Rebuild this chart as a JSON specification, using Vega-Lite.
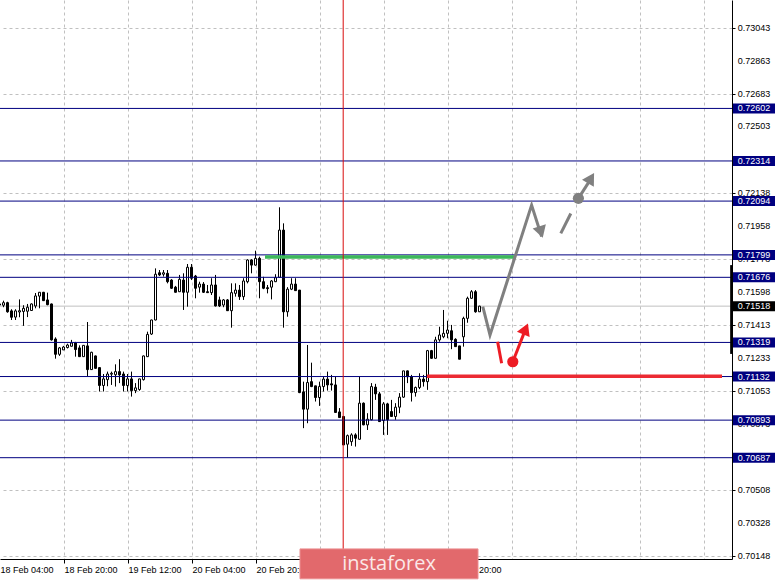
{
"$schema": "https://vega.github.io/schema/vega-lite/v6.json",
"width": 732, "height": 559,
"autosize": {"type": "none"},
"padding": {"left": 0, "top": 0, "right": 46, "bottom": 21},
"background": "white",
"config": {"view": {"stroke": null}, "font": "Liberation Sans", "scale": {"continuousPadding": 0}},
"datasets": {
"candles": [
{"k":0,"o":0.71524,"h":0.71537,"l":0.71515,"c":0.71530},
{"k":1,"o":0.71523,"h":0.71548,"l":0.71512,"c":0.71537},
{"k":2,"o":0.71537,"h":0.71542,"l":0.71482,"c":0.71487},
{"k":3,"o":0.71492,"h":0.71501,"l":0.71442,"c":0.71457},
{"k":4,"o":0.71458,"h":0.71501,"l":0.71442,"c":0.71492},
{"k":5,"o":0.71486,"h":0.71555,"l":0.71457,"c":0.71493},
{"k":6,"o":0.71489,"h":0.71523,"l":0.71410,"c":0.71506},
{"k":7,"o":0.71490,"h":0.71530,"l":0.71458,"c":0.71512},
{"k":8,"o":0.71494,"h":0.71533,"l":0.71492,"c":0.71530},
{"k":9,"o":0.71519,"h":0.71590,"l":0.71506,"c":0.71574},
{"k":10,"o":0.71573,"h":0.71594,"l":0.71506,"c":0.71594},
{"k":11,"o":0.71594,"h":0.71596,"l":0.71546,"c":0.71548},
{"k":12,"o":0.71552,"h":0.71592,"l":0.71523,"c":0.71526},
{"k":13,"o":0.71530,"h":0.71532,"l":0.71329,"c":0.71333},
{"k":14,"o":0.71338,"h":0.71347,"l":0.71230,"c":0.71254},
{"k":15,"o":0.71254,"h":0.71294,"l":0.71245,"c":0.71289},
{"k":16,"o":0.71278,"h":0.71300,"l":0.71278,"c":0.71294},
{"k":17,"o":0.71291,"h":0.71312,"l":0.71286,"c":0.71305},
{"k":18,"o":0.71298,"h":0.71333,"l":0.71297,"c":0.71316},
{"k":19,"o":0.71316,"h":0.71322,"l":0.71241,"c":0.71280},
{"k":20,"o":0.71289,"h":0.71303,"l":0.71239,"c":0.71241},
{"k":21,"o":0.71241,"h":0.71303,"l":0.71241,"c":0.71303},
{"k":22,"o":0.71300,"h":0.71431,"l":0.71135,"c":0.71170},
{"k":23,"o":0.71170,"h":0.71268,"l":0.71168,"c":0.71265},
{"k":24,"o":0.71245,"h":0.71247,"l":0.71175,"c":0.71177},
{"k":25,"o":0.71181,"h":0.71183,"l":0.71050,"c":0.71083},
{"k":26,"o":0.71083,"h":0.71146,"l":0.71050,"c":0.71119},
{"k":27,"o":0.71115,"h":0.71159,"l":0.71079,"c":0.71146},
{"k":28,"o":0.71145,"h":0.71159,"l":0.71086,"c":0.71150},
{"k":29,"o":0.71142,"h":0.71199,"l":0.71077,"c":0.71159},
{"k":30,"o":0.71159,"h":0.71227,"l":0.71096,"c":0.71141},
{"k":31,"o":0.71146,"h":0.71159,"l":0.71050,"c":0.71083},
{"k":32,"o":0.71083,"h":0.71146,"l":0.71050,"c":0.71119},
{"k":33,"o":0.71119,"h":0.71159,"l":0.71022,"c":0.71055},
{"k":34,"o":0.71055,"h":0.71096,"l":0.71041,"c":0.71070},
{"k":35,"o":0.71061,"h":0.71120,"l":0.71054,"c":0.71119},
{"k":36,"o":0.71115,"h":0.71247,"l":0.71110,"c":0.71245},
{"k":37,"o":0.71241,"h":0.71378,"l":0.71239,"c":0.71363},
{"k":38,"o":0.71365,"h":0.71444,"l":0.71360,"c":0.71442},
{"k":39,"o":0.71442,"h":0.71725,"l":0.71440,"c":0.71693},
{"k":40,"o":0.71701,"h":0.71716,"l":0.71683,"c":0.71689},
{"k":41,"o":0.71693,"h":0.71716,"l":0.71680,"c":0.71701},
{"k":42,"o":0.71698,"h":0.71716,"l":0.71643,"c":0.71652},
{"k":43,"o":0.71661,"h":0.71666,"l":0.71612,"c":0.71616},
{"k":44,"o":0.71622,"h":0.71629,"l":0.71593,"c":0.71594},
{"k":45,"o":0.71597,"h":0.71689,"l":0.71596,"c":0.71665},
{"k":46,"o":0.71661,"h":0.71698,"l":0.71497,"c":0.71594},
{"k":47,"o":0.71594,"h":0.71749,"l":0.71515,"c":0.71731},
{"k":48,"o":0.71731,"h":0.71749,"l":0.71661,"c":0.71671},
{"k":49,"o":0.71683,"h":0.71689,"l":0.71561,"c":0.71616},
{"k":50,"o":0.71622,"h":0.71652,"l":0.71592,"c":0.71639},
{"k":51,"o":0.71639,"h":0.71650,"l":0.71590,"c":0.71594},
{"k":52,"o":0.71597,"h":0.71634,"l":0.71590,"c":0.71592},
{"k":53,"o":0.71592,"h":0.71671,"l":0.71579,"c":0.71634},
{"k":54,"o":0.71634,"h":0.71689,"l":0.71516,"c":0.71519},
{"k":55,"o":0.71552,"h":0.71570,"l":0.71513,"c":0.71519},
{"k":56,"o":0.71524,"h":0.71557,"l":0.71512,"c":0.71552},
{"k":57,"o":0.71552,"h":0.71557,"l":0.71492,"c":0.71493},
{"k":58,"o":0.71493,"h":0.71643,"l":0.71400,"c":0.71592},
{"k":59,"o":0.71588,"h":0.71643,"l":0.71570,"c":0.71606},
{"k":60,"o":0.71606,"h":0.71634,"l":0.71552,"c":0.71570},
{"k":61,"o":0.71570,"h":0.71671,"l":0.71552,"c":0.71656},
{"k":62,"o":0.71652,"h":0.71775,"l":0.71643,"c":0.71771},
{"k":63,"o":0.71771,"h":0.71775,"l":0.71698,"c":0.71743},
{"k":64,"o":0.71743,"h":0.71822,"l":0.71740,"c":0.71780},
{"k":65,"o":0.71780,"h":0.71789,"l":0.71561,"c":0.71652},
{"k":66,"o":0.71652,"h":0.71679,"l":0.71611,"c":0.71616},
{"k":67,"o":0.71619,"h":0.71634,"l":0.71588,"c":0.71614},
{"k":68,"o":0.71622,"h":0.71661,"l":0.71555,"c":0.71656},
{"k":69,"o":0.71652,"h":0.71693,"l":0.71650,"c":0.71674},
{"k":70,"o":0.71676,"h":0.72060,"l":0.71674,"c":0.71935},
{"k":71,"o":0.71935,"h":0.71972,"l":0.71400,"c":0.71487},
{"k":72,"o":0.71487,"h":0.71622,"l":0.71460,"c":0.71611},
{"k":73,"o":0.71611,"h":0.71671,"l":0.71606,"c":0.71639},
{"k":74,"o":0.71639,"h":0.71671,"l":0.71601,"c":0.71603},
{"k":75,"o":0.71606,"h":0.71606,"l":0.71041,"c":0.71044},
{"k":76,"o":0.71048,"h":0.71104,"l":0.70849,"c":0.70953},
{"k":77,"o":0.70953,"h":0.71305,"l":0.70876,"c":0.71099},
{"k":78,"o":0.71104,"h":0.71208,"l":0.71074,"c":0.71077},
{"k":79,"o":0.71081,"h":0.71081,"l":0.70995,"c":0.71017},
{"k":80,"o":0.71017,"h":0.71104,"l":0.70971,"c":0.71077},
{"k":81,"o":0.71077,"h":0.71131,"l":0.71050,"c":0.71118},
{"k":82,"o":0.71118,"h":0.71159,"l":0.71055,"c":0.71086},
{"k":83,"o":0.71092,"h":0.71141,"l":0.71055,"c":0.71086},
{"k":84,"o":0.71086,"h":0.71131,"l":0.70933,"c":0.70935},
{"k":85,"o":0.70938,"h":0.70959,"l":0.70905,"c":0.70907},
{"k":86,"o":0.70913,"h":0.70913,"l":0.70757,"c":0.70757},
{"k":87,"o":0.70761,"h":0.70814,"l":0.70687,"c":0.70808},
{"k":88,"o":0.70775,"h":0.70821,"l":0.70752,"c":0.70812},
{"k":89,"o":0.70812,"h":0.70821,"l":0.70748,"c":0.70794},
{"k":90,"o":0.70788,"h":0.71131,"l":0.70787,"c":0.70986},
{"k":91,"o":0.70986,"h":0.70990,"l":0.70865,"c":0.70867},
{"k":92,"o":0.70867,"h":0.70931,"l":0.70839,"c":0.70898},
{"k":93,"o":0.70895,"h":0.71096,"l":0.70892,"c":0.71077},
{"k":94,"o":0.71074,"h":0.71092,"l":0.71004,"c":0.71037},
{"k":95,"o":0.71037,"h":0.71048,"l":0.70883,"c":0.70885},
{"k":96,"o":0.70891,"h":0.70992,"l":0.70812,"c":0.70982},
{"k":97,"o":0.70982,"h":0.70988,"l":0.70812,"c":0.70895},
{"k":98,"o":0.70940,"h":0.71004,"l":0.70911,"c":0.70913},
{"k":99,"o":0.70913,"h":0.70986,"l":0.70895,"c":0.70964},
{"k":100,"o":0.70964,"h":0.71041,"l":0.70931,"c":0.71019},
{"k":101,"o":0.71019,"h":0.71163,"l":0.71015,"c":0.71163},
{"k":102,"o":0.71163,"h":0.71165,"l":0.71096,"c":0.71131},
{"k":103,"o":0.71131,"h":0.71141,"l":0.70995,"c":0.71044},
{"k":104,"o":0.71044,"h":0.71077,"l":0.71022,"c":0.71072},
{"k":105,"o":0.71072,"h":0.71150,"l":0.71063,"c":0.71118},
{"k":106,"o":0.71118,"h":0.71141,"l":0.71077,"c":0.71104},
{"k":107,"o":0.71104,"h":0.71278,"l":0.71059,"c":0.71274},
{"k":108,"o":0.71274,"h":0.71278,"l":0.71230,"c":0.71232},
{"k":109,"o":0.71232,"h":0.71350,"l":0.71231,"c":0.71333},
{"k":110,"o":0.71333,"h":0.71405,"l":0.71323,"c":0.71360},
{"k":111,"o":0.71350,"h":0.71497,"l":0.71342,"c":0.71369},
{"k":112,"o":0.71369,"h":0.71438,"l":0.71342,"c":0.71387},
{"k":113,"o":0.71383,"h":0.71415,"l":0.71282,"c":0.71333},
{"k":114,"o":0.71336,"h":0.71342,"l":0.71294,"c":0.71296},
{"k":115,"o":0.71300,"h":0.71300,"l":0.71227,"c":0.71227},
{"k":116,"o":0.71350,"h":0.71460,"l":0.71296,"c":0.71451},
{"k":117,"o":0.71451,"h":0.71570,"l":0.71427,"c":0.71561},
{"k":118,"o":0.71561,"h":0.71606,"l":0.71558,"c":0.71597},
{"k":119,"o":0.71597,"h":0.71606,"l":0.71482,"c":0.71487},
{"k":120,"o":0.71487,"h":0.71520,"l":0.71486,"c":0.71518}
],
"levels": [
{"price":0.72602},{"price":0.72314},{"price":0.72094},{"price":0.71799},{"price":0.71676},
{"price":0.71319},{"price":0.71132},{"price":0.70893},{"price":0.70687}
],
"yticks": [
{"v":0.73043},{"v":0.72863},{"v":0.72683},{"v":0.72503},{"v":0.72138},{"v":0.71958},{"v":0.71778},{"v":0.71598},
{"v":0.71413},{"v":0.71233},{"v":0.71053},{"v":0.70873},{"v":0.70508},{"v":0.70328},{"v":0.70148}
],
"zones": [
{"zone":"resistance","from":66.25,"to":128.5,"price":0.71787},
{"zone":"support","from":106.75,"to":180.5,"price":0.71134}
],
"paths": [
{"seg":"g1","scenario":"main","seq":1,"k":120.7,"p":0.71515},
{"seg":"g1","scenario":"main","seq":2,"k":122.5,"p":0.71360},
{"seg":"g1","scenario":"main","seq":3,"k":132.9,"p":0.72072},
{"seg":"g1","scenario":"main","seq":4,"k":135.4,"p":0.71900},
{"seg":"g2","scenario":"main","seq":1,"k":140.2,"p":0.71917},
{"seg":"g2","scenario":"main","seq":2,"k":142.7,"p":0.72026},
{"seg":"g3","scenario":"main","seq":1,"k":144.6,"p":0.72109},
{"seg":"g3","scenario":"main","seq":2,"k":147.4,"p":0.72205},
{"seg":"r1","scenario":"alternative","seq":1,"k":124.4,"p":0.71323},
{"seg":"r1","scenario":"alternative","seq":2,"k":125.4,"p":0.71205},
{"seg":"r2","scenario":"alternative","seq":1,"k":128.2,"p":0.71213},
{"seg":"r2","scenario":"alternative","seq":2,"k":131.0,"p":0.71370}
],
"dots": [
{"scenario":"main","k":144.6,"p":0.72109},
{"scenario":"alternative","k":128.2,"p":0.71213}
],
"heads": [
{"scenario":"main","k":135.25,"p":0.71924,"heading":163},
{"scenario":"main","k":147.75,"p":0.72220,"heading":31},
{"scenario":"alternative","k":131.4,"p":0.71393,"heading":23}
],
"one": [{}]
},
"layer": [
{
"data": {"name": "candles"},
"mark": {"type": "rule", "color": "#c0c0c0", "strokeWidth": 1},
"encoding": {
"x": {"field": "k", "type": "quantitative",
 "scale": {"domain": [0, 183], "nice": false, "zero": false, "padding": 0},
 "axis": {"title": null, "orient": "bottom",
  "values": [0,8,16,24,32,40,48,56,64,72,80,88,96,104,112,120,128,136,144,152,160,168,176],
  "grid": true, "gridColor": "#c0c0c0", "gridDash": [3,3], "gridWidth": 1,
  "gridOpacity": {"condition": {"test": "datum.value === 0", "value": 0}, "value": 1},
  "tickOpacity": {"condition": {"test": "datum.value % 16 === 0 && datum.value > 0 && datum.value <= 112", "value": 1}, "value": 0},
  "labelExpr": "datum.value == 0 ? '18 Feb 04:00' : datum.value == 16 ? '18 Feb 20:00' : datum.value == 32 ? '19 Feb 12:00' : datum.value == 48 ? '20 Feb 04:00' : datum.value == 64 ? '20 Feb 20:00' : datum.value == 112 ? '24 Feb 20:00' : ''",
  "labelAlign": "left", "labelBaseline": "top", "labelPadding": 2,
  "labelFont": "Liberation Sans", "labelFontSize": 9, "labelColor": "black",
  "labelOverlap": false, "labelFlush": false, "labelBound": false,
  "tickSize": 4, "tickColor": "black", "domainColor": "black", "domainWidth": 1}},
"y": {"field": "l", "type": "quantitative",
 "scale": {"domain": [0.701316, 0.731965], "nice": false, "zero": false, "padding": 0},
 "axis": {"title": null, "orient": "right",
  "values": [0.70148,0.70328,0.70508,0.70873,0.71053,0.71233,0.71413,0.71598,0.71778,0.71958,0.72138,0.72503,0.72683,0.72863,0.73043],
  "labels": false, "grid": true, "gridColor": "#c0c0c0", "gridDash": [3,3], "gridWidth": 1,
  "tickSize": 3, "tickColor": "black", "domainColor": "black", "domainWidth": 1}},
"y2": {"field": "l"},
"opacity": {"value": 0}
}
},
{
"data": {"name": "one"},
"mark": {"type": "rule", "color": "#c0c0c0", "strokeWidth": 1},
"encoding": {"y": {"datum": 0.71518, "type": "quantitative"}}
},
{
"data": {"name": "candles"},
"mark": {"type": "rule", "color": "black", "strokeWidth": 1, "xOffset": -0.5},
"encoding": {
"x": {"field": "k", "type": "quantitative"},
"y": {"field": "l", "type": "quantitative"},
"y2": {"field": "h"}
}
},
{
"data": {"name": "candles"},
"mark": {"type": "bar", "size": 2, "stroke": "black", "strokeWidth": 1, "xOffset": -0.5, "orient": "vertical"},
"encoding": {
"x": {"field": "k", "type": "quantitative"},
"y": {"field": "o", "type": "quantitative"},
"y2": {"field": "c"},
"fill": {"condition": {"test": "datum.c >= datum.o", "value": "white"}, "value": "black"}
}
},
{
"data": {"name": "levels"},
"mark": {"type": "rule", "color": "#000080", "strokeWidth": 1},
"encoding": {"y": {"field": "price", "type": "quantitative"}}
},
{
"data": {"name": "zones"},
"mark": {"type": "rule", "strokeWidth": 3.5},
"encoding": {
"x": {"field": "from", "type": "quantitative"},
"x2": {"field": "to"},
"y": {"field": "price", "type": "quantitative"},
"color": {"field": "zone", "type": "nominal", "scale": {"domain": ["resistance", "support"], "range": ["#3cb95a", "#ec2a33"]}, "legend": null}
}
},
{
"data": {"name": "one"},
"mark": {"type": "rule", "color": "#d80c0c", "strokeWidth": 1},
"encoding": {"x": {"datum": 85.8, "type": "quantitative"}}
},
{
"data": {"name": "paths"},
"mark": {"type": "line", "strokeWidth": 3, "strokeCap": "butt"},
"encoding": {
"x": {"field": "k", "type": "quantitative"},
"y": {"field": "p", "type": "quantitative"},
"detail": {"field": "seg"},
"order": {"field": "seq"},
"stroke": {"field": "scenario", "type": "nominal", "scale": {"domain": ["main", "alternative"], "range": ["#808080", "#ed1c24"]}, "legend": null}
}
},
{
"data": {"name": "dots"},
"mark": {"type": "point", "shape": "circle", "filled": true, "size": 125, "opacity": 1},
"encoding": {
"x": {"field": "k", "type": "quantitative"},
"y": {"field": "p", "type": "quantitative"},
"fill": {"field": "scenario", "type": "nominal", "scale": {"domain": ["main", "alternative"], "range": ["#808080", "#ed1c24"]}, "legend": null}
}
},
{
"data": {"name": "heads"},
"mark": {"type": "point", "shape": "triangle-up", "filled": true, "size": 190, "opacity": 1},
"encoding": {
"x": {"field": "k", "type": "quantitative"},
"y": {"field": "p", "type": "quantitative"},
"angle": {"field": "heading", "type": "quantitative", "scale": null},
"fill": {"field": "scenario", "type": "nominal", "scale": {"domain": ["main", "alternative"], "range": ["#808080", "#ed1c24"]}, "legend": null}
}
},
{
"data": {"name": "yticks"},
"mark": {"type": "text", "align": "left", "baseline": "middle", "color": "black", "font": "Liberation Sans", "fontSize": 9},
"encoding": {
"y": {"field": "v", "type": "quantitative"},
"x": {"datum": 184.45, "type": "quantitative"},
"text": {"field": "v", "type": "quantitative", "format": ".5f"}
}
},
{
"data": {"name": "levels"},
"mark": {"type": "bar", "orient": "horizontal", "size": 10, "color": "#000080"},
"encoding": {
"y": {"field": "price", "type": "quantitative"},
"x": {"datum": 183.25, "type": "quantitative"},
"x2": {"datum": 193.75}
}
},
{
"data": {"name": "levels"},
"mark": {"type": "text", "align": "left", "baseline": "middle", "color": "white", "font": "Liberation Sans", "fontSize": 9},
"encoding": {
"y": {"field": "price", "type": "quantitative"},
"x": {"datum": 184.45, "type": "quantitative"},
"text": {"field": "price", "type": "quantitative", "format": ".5f"}
}
},
{
"data": {"name": "one"},
"mark": {"type": "bar", "orient": "horizontal", "size": 10, "color": "black"},
"encoding": {
"y": {"datum": 0.71518, "type": "quantitative"},
"x": {"datum": 183.25, "type": "quantitative"},
"x2": {"datum": 193.75}
}
},
{
"data": {"name": "one"},
"mark": {"type": "text", "align": "left", "baseline": "middle", "color": "white", "font": "Liberation Sans", "fontSize": 9, "text": "0.71518"},
"encoding": {
"y": {"datum": 0.71518, "type": "quantitative"},
"x": {"datum": 184.45, "type": "quantitative"}
}
},
{
"data": {"name": "one"},
"mark": {"type": "rule", "color": "black", "strokeWidth": 2.5},
"encoding": {
"x": {"datum": 182.85, "type": "quantitative"},
"y": {"datum": 0.71743, "type": "quantitative"},
"y2": {"datum": 0.71256}
}
},
{
"data": {"name": "one"},
"mark": {"type": "rect", "color": "#e2696c", "stroke": "#eb8f91", "strokeWidth": 1},
"encoding": {
"x": {"datum": 75, "type": "quantitative"},
"x2": {"datum": 119.5},
"y": {"datum": 0.70187, "type": "quantitative"},
"y2": {"datum": 0.70023}
}
},
{
"data": {"name": "one"},
"mark": {"type": "text", "align": "center", "baseline": "middle", "color": "#fbe8e8", "font": "Open Sans", "fontSize": 20, "text": "instaforex"},
"encoding": {
"x": {"datum": 97.25, "type": "quantitative"},
"y": {"datum": 0.70102, "type": "quantitative"}
}
}
]
}
